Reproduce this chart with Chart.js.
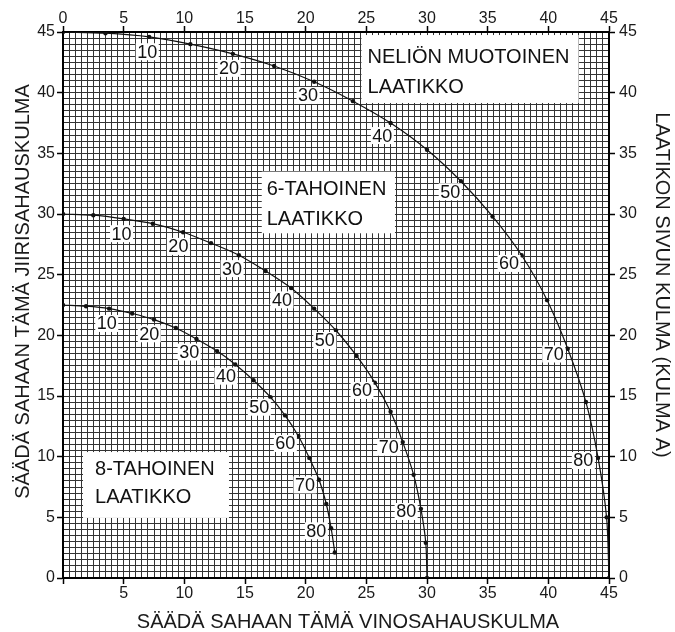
<!DOCTYPE html>
<html><head><meta charset="utf-8">
<script src="https://cdn.jsdelivr.net/npm/chart.js@4.4.1/dist/chart.umd.min.js"></script>
<style>html,body{margin:0;padding:0;background:#fff}#wrap{width:675px;height:632px}</style>
</head><body><div id="wrap"><canvas id="c" width="675" height="632"></canvas></div>
<script>
// Side angle of the box (KULMA A), one dot every 5 degrees
const sideAngles = [0,5,10,15,20,25,30,35,40,45,50,55,60,65,70,75,80,85,90];
// Square box (NELIÖN MUOTOINEN LAATIKKO): bevel (x) and miter (y)
const squareBevel = [0,3.5,7.1,10.5,14.0,17.4,20.7,23.9,27.0,30.0,32.8,35.4,37.8,39.9,41.6,43.1,44.1,44.8,45];
const squareMiter = [45,44.9,44.6,44.0,43.2,42.2,40.9,39.3,37.5,35.3,32.7,29.8,26.6,22.9,18.9,14.5,9.9,5.0,0];
// 6-sided box
const hexBevel = [0,2.5,5.0,7.4,9.9,12.2,14.5,16.7,18.8,20.7,22.5,24.2,25.7,27.0,28.0,28.9,29.5,29.9,30];
const hexMiter = [30,29.9,29.6,29.2,28.5,27.6,26.6,25.3,23.9,22.2,20.4,18.3,16.1,13.7,11.2,8.5,5.7,2.9,0];
// 8-sided box (ends at 85)
const octBevel = [0,1.9,3.8,5.7,7.5,9.3,11.0,12.7,14.2,15.7,17.1,18.3,19.4,20.3,21.1,21.7,22.1,22.4];
const octMiter = [22.5,22.4,22.2,21.8,21.3,20.6,19.7,18.7,17.6,16.3,14.9,13.4,11.7,9.9,8.1,6.1,4.1,2.1];
// Curve labels
const labelledAngles = [10,20,30,40,50,60,70,80];
// Box captions
const squareCaption = ['NELIÖN MUOTOINEN','LAATIKKO'];
const hexCaption = ['6-TAHOINEN','LAATIKKO'];
const octCaption = ['8-TAHOINEN','LAATIKKO'];
// Axis titles
const xTitle = 'SÄÄDÄ SAHAAN TÄMÄ VINOSAHAUSKULMA';
const yTitle = 'SÄÄDÄ SAHAAN TÄMÄ JIIRISAHAUSKULMA';
const y2Title = 'LAATIKON SIVUN KULMA (KULMA A)';
const axisMin = 0, axisMax = 45, labelStep = 5, gridStep = 0.5;

const FONT = '"Liberation Sans", Arial, Helvetica, sans-serif';
Chart.defaults.font.family = FONT;
Chart.defaults.color = '#1a1a1a';

function toPoints(bx, my){ return bx.map((b,i)=>({x:b, y:my[i]})); }

const captionBoxes = [
  {lines: squareCaption, x0:24.6, x1:42.5, y0:44.75, y1:39.15, tx:25.1, ty:[42.45,39.97]},
  {lines: hexCaption, x0:16.38, x1:27.36, y0:33.49, y1:28.41, tx:16.79, ty:[31.57,29.09]},
  {lines: octCaption, x0:1.65, x1:13.68, y0:10.38, y1:4.95, tx:2.64, ty:[8.49,6.18]}
];

const boxesPlugin = {
  id:'boxes',
  beforeDatasetsDraw(chart){
    const {ctx, scales:{x, y}} = chart;
    ctx.save();
    ctx.font = '20px ' + FONT;
    ctx.textAlign = 'left'; ctx.textBaseline = 'alphabetic';
    captionBoxes.forEach(b => {
      const px0 = x.getPixelForValue(b.x0), px1 = x.getPixelForValue(b.x1);
      const py0 = y.getPixelForValue(b.y0), py1 = y.getPixelForValue(b.y1);
      ctx.fillStyle = '#fff';
      ctx.fillRect(px0, py0, px1-px0, py1-py0);
      ctx.fillStyle = '#111';
      b.lines.forEach((t,k) => ctx.fillText(t, x.getPixelForValue(b.tx), y.getPixelForValue(b.ty[k])));
    });
    ctx.restore();
  }
};

const curveLabels = {
  id:'curveLabels',
  afterDatasetsDraw(chart){
    const ctx = chart.ctx;
    ctx.save();
    ctx.font = '18px ' + FONT;
    ctx.textAlign = 'center'; ctx.textBaseline = 'middle';
    chart.data.datasets.forEach((ds, di) => {
      const pts = chart.getDatasetMeta(di).data;
      labelledAngles.forEach(a => {
        const i = sideAngles.indexOf(a);
        const p = pts[i]; if (!p) return;
        const p0 = pts[i-1], p1 = pts[Math.min(i+1, pts.length-1)];
        const tx = p1.x - p0.x, ty = p1.y - p0.y, L = Math.hypot(tx, ty);
        const nx = -ty/L, ny = tx/L, d = 15;
        const cx = p.x + nx*d, cy = p.y + ny*d;
        const txt = String(a), w = ctx.measureText(txt).width;
        ctx.fillStyle = '#fff';
        ctx.fillRect(cx - w/2 - 1.5, cy - 8.5, w + 3, 17);
        ctx.fillStyle = '#111';
        ctx.fillText(txt, cx, cy + 1);
      });
    });
    ctx.restore();
  }
};

// Axis titles (drawn as canvas text, placed like the reference)
const axisTitles = {
  id:'axisTitles',
  afterDraw(chart){
    const ctx = chart.ctx;
    ctx.save();
    ctx.font = '20px ' + FONT;
    ctx.fillStyle = '#1a1a1a';
    ctx.textAlign = 'center'; ctx.textBaseline = 'alphabetic';
    ctx.fillText(xTitle, 348, 628);
    ctx.save();
    ctx.translate(29, 291.5); ctx.rotate(-Math.PI/2);
    ctx.fillText(yTitle, 0, 0);
    ctx.restore();
    ctx.save();
    ctx.translate(656, 285); ctx.rotate(Math.PI/2);
    ctx.fillText(y2Title, 0, 0);
    ctx.restore();
    ctx.restore();
  }
};

const isMajor = v => Math.abs(v/labelStep - Math.round(v/labelStep)) < 1e-6;
const tickMarkColor = c => (c.tick && isMajor(c.tick.value)) ? '#000' : 'rgba(0,0,0,0)';
const fixBox = (w, h) => s => {
  if (w !== null) s.width = w;
  if (h !== null) s.height = h;
  s.paddingLeft = 0; s.paddingRight = 0; s.paddingTop = 0; s.paddingBottom = 0;
};

function lineDs(label, points){
  return {label, data: points, showLine:true, borderColor:'#111', borderWidth:1.2, tension:0.3,
    pointRadius:2.2, pointBackgroundColor:'#111', pointBorderWidth:0, fill:false};
}

new Chart(document.getElementById('c'), {
  type:'scatter',
  data:{ datasets:[
    lineDs(squareCaption.join(' '), toPoints(squareBevel, squareMiter)),
    lineDs(hexCaption.join(' '), toPoints(hexBevel, hexMiter)),
    lineDs(octCaption.join(' '), toPoints(octBevel, octMiter))
  ]},
  options:{
    responsive:false, animation:false,
    layout:{padding:0},
    plugins:{legend:{display:false}, tooltip:{enabled:false}},
    scales:{
      x:{type:'linear', position:'bottom', min:axisMin, max:axisMax,
        ticks:{stepSize:gridStep, autoSkip:false, maxRotation:0, minRotation:0, padding:0,
          font:{size:16}, color:'#1a1a1a',
          callback:v => (isMajor(v) && v !== 0) ? String(v) : ''},
        grid:{color:'#333', lineWidth:1, tickLength:6, tickColor:tickMarkColor, tickWidth:1.5},
        border:{color:'#000', width:2},
        title:{display:false, text:xTitle},
        afterFit: fixBox(null, 54)
      },
      x2:{type:'linear', position:'top', min:axisMin, max:axisMax, display:true,
        ticks:{stepSize:gridStep, autoSkip:false, maxRotation:0, minRotation:0, padding:-2,
          font:{size:16}, color:'#1a1a1a',
          callback:v => isMajor(v) ? String(v) : ''},
        grid:{drawOnChartArea:false, tickLength:6, tickColor:tickMarkColor, tickWidth:1.5},
        border:{color:'#000', width:2},
        afterFit: fixBox(null, 32)
      },
      y:{type:'linear', position:'left', min:axisMin, max:axisMax,
        ticks:{stepSize:gridStep, autoSkip:false, padding:2, font:{size:16}, color:'#1a1a1a',
          callback:v => isMajor(v) ? String(v) : ''},
        grid:{color:'#333', lineWidth:1, tickLength:6, tickColor:tickMarkColor, tickWidth:1.5},
        border:{color:'#000', width:2},
        title:{display:false, text:yTitle},
        afterFit: fixBox(63, null)
      },
      y2:{type:'linear', position:'right', min:axisMin, max:axisMax, display:true,
        ticks:{stepSize:gridStep, autoSkip:false, padding:4, font:{size:16}, color:'#1a1a1a',
          callback:v => isMajor(v) ? String(v) : ''},
        grid:{drawOnChartArea:false, tickLength:6, tickColor:tickMarkColor, tickWidth:1.5},
        border:{color:'#000', width:2},
        title:{display:false, text:y2Title},
        afterFit: fixBox(66, null)
      }
    }
  },
  plugins:[boxesPlugin, curveLabels, axisTitles]
});
</script></body></html>
